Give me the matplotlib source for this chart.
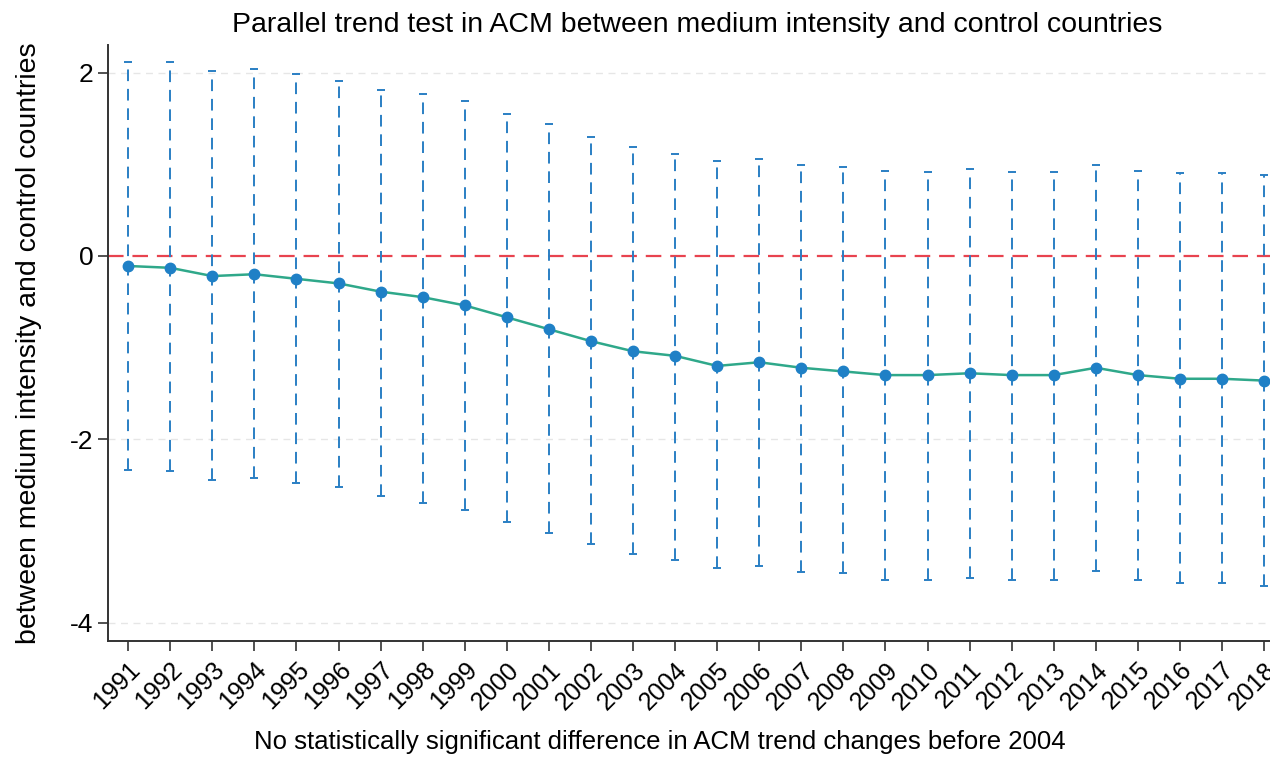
import numpy as np
import matplotlib
matplotlib.use("Agg")
import matplotlib.pyplot as plt

plt.rcParams['font.family'] = ['Liberation Sans', 'DejaVu Sans']

# values
years = list(range(1991, 2019))
coef = [-0.11, -0.13, -0.22, -0.20, -0.25, -0.30, -0.39, -0.45, -0.54, -0.67,
        -0.80, -0.93, -1.04, -1.09, -1.20, -1.16, -1.22, -1.26, -1.30, -1.30,
        -1.28, -1.30, -1.30, -1.22, -1.30, -1.34, -1.34, -1.36]
ci_upper = [2.12, 2.11, 2.02, 2.04, 1.98, 1.91, 1.81, 1.77, 1.69, 1.55,
            1.44, 1.30, 1.19, 1.11, 1.04, 1.06, 0.99, 0.97, 0.93, 0.92,
            0.95, 0.92, 0.92, 0.99, 0.93, 0.90, 0.90, 0.88]
ci_lower = [-2.33, -2.35, -2.44, -2.42, -2.48, -2.52, -2.62, -2.69, -2.77, -2.90,
            -3.02, -3.14, -3.25, -3.32, -3.40, -3.38, -3.45, -3.46, -3.53, -3.53,
            -3.51, -3.53, -3.53, -3.44, -3.53, -3.57, -3.57, -3.60]
yticks = [-4, -2, 0, 2]

x = np.array(years)
y = np.array(coef)
lo = y - np.array(ci_lower)
hi = np.array(ci_upper) - y

fig = plt.figure(figsize=(12.7, 7.61), dpi=100)
ax = fig.add_axes([108 / 1270, 1 - 641 / 761, 1 - 108 / 1270, (641 - 45) / 761])

# faint grid lines
for t in [-4, -2, 2]:
    ax.axhline(t, color='#e6e6e6', lw=1.0, ls=(0, (5, 4)), zorder=0)

# confidence intervals
eb = ax.errorbar(x, y, yerr=[lo, hi], fmt='none', ecolor='#2a7fc4', elinewidth=1.4,
                 capsize=3, capthick=1.4, zorder=2)
eb[2][0].set_linestyle((0, (6, 4)))

# zero line
ax.axhline(0, color='#e8434f', lw=1.6, ls=(0, (7, 4)), zorder=1)

# point estimates
ax.plot(x, y, color='#2fa88a', lw=1.8, zorder=3)
ax.plot(x, y, 'o', color='#1f80c6', ms=7.5, zorder=4)

ax.set_xlim(1990.52, 2018.14)
ax.set_ylim(-4.2, 2.3)
ax.set_xticks(years)
ax.set_xticklabels([str(v) for v in years], rotation=45, ha='right',
                   rotation_mode='anchor', fontsize=18)
ax.set_yticks(yticks)
ax.set_yticklabels([str(v) for v in yticks], fontsize=19)
ax.tick_params(axis='both', direction='out', length=7, width=1.2, color='#333333')
ax.tick_params(axis='x', pad=5)

for s in ['top', 'right']:
    ax.spines[s].set_visible(False)
for s in ['left', 'bottom']:
    ax.spines[s].set_linewidth(1.4)
    ax.spines[s].set_color('#333333')

fig.text(697 / 1270, 1 - 32 / 761,
         'Parallel trend test in ACM between medium intensity and control countries',
         fontsize=20.5, ha='center', va='baseline')
ax.set_ylabel('between medium intensity and control countries', fontsize=20.5)
ax.yaxis.set_label_coords(-0.057, 0.5)
ax.set_xlabel('No statistically significant difference in ACM trend changes before 2004',
              fontsize=18.5)
ax.xaxis.set_label_coords(0.475, -0.149)

fig.savefig('out.png', dpi=100)
